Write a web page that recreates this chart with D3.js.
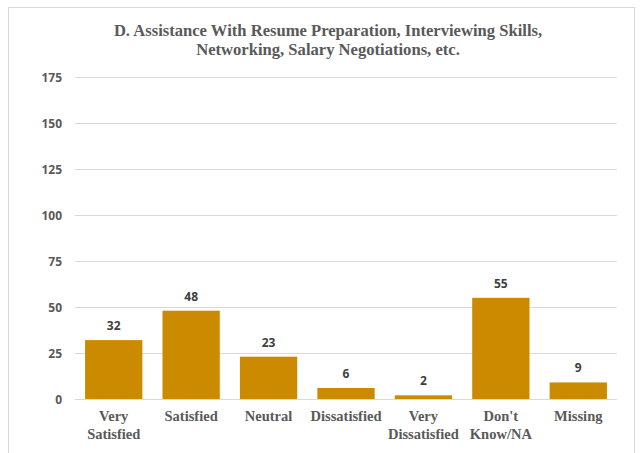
<!DOCTYPE html>
<html><head><meta charset="utf-8">
<script src="https://cdn.jsdelivr.net/npm/d3@7"></script>
<style>html,body{margin:0;padding:0;background:#fff;}svg{display:block;}</style>
</head><body>
<script>
const categories = [["Very","Satisfied"],["Satisfied"],["Neutral"],["Dissatisfied"],["Very","Dissatisfied"],["Don't","Know/NA"],["Missing"]];
const values = [32, 48, 23, 6, 2, 55, 9];
const yTicks = [0, 25, 50, 75, 100, 125, 150, 175];
const titleLines = ["D. Assistance With Resume Preparation, Interviewing Skills,", "Networking, Salary Negotiations, etc."];

const W = 643, H = 453;
const svg = d3.select("body").append("svg").attr("width", W).attr("height", H);
svg.append("rect").attr("x", 8.5).attr("y", 7.5).attr("width", 626).attr("height", 460)
  .attr("fill", "#fff").attr("stroke", "#d9d9d9");

const x = d3.scaleBand().domain(d3.range(categories.length)).range([75, 617]).paddingInner(0.26).paddingOuter(0.13);
const y = d3.scaleLinear().domain([0, 175]).range([399, 77]);

svg.append("g").selectAll("line").data(yTicks).join("line")
  .attr("x1", 75).attr("x2", 617).attr("y1", d => Math.round(y(d)) + 0.5).attr("y2", d => Math.round(y(d)) + 0.5)
  .attr("stroke", "#d9d9d9").attr("stroke-width", 1);

svg.append("g").selectAll("text").data(yTicks).join("text")
  .attr("x", 62).attr("y", d => y(d) + 4.5).attr("text-anchor", "end")
  .attr("font-family", "'Open Sans', 'Liberation Sans', sans-serif").attr("font-weight", "bold")
  .attr("font-size", 12).attr("fill", "#595959").text(d => d);

svg.append("g").selectAll("rect").data(values).join("rect")
  .attr("x", (d, i) => x(i)).attr("width", x.bandwidth())
  .attr("y", d => y(d)).attr("height", d => y(0) - y(d)).attr("fill", "#cc8a00");

svg.append("g").selectAll("text").data(values).join("text")
  .attr("x", (d, i) => x(i) + x.bandwidth() / 2).attr("y", d => y(d) - 10)
  .attr("text-anchor", "middle")
  .attr("font-family", "'Open Sans', 'Liberation Sans', sans-serif").attr("font-weight", "bold")
  .attr("font-size", 12).attr("fill", "#404040").text(d => d);

const cat = svg.append("g").selectAll("text").data(categories).join("text")
  .attr("x", (d, i) => x(i) + x.bandwidth() / 2).attr("y", 421)
  .attr("text-anchor", "middle")
  .attr("font-family", "'Liberation Serif', 'Times New Roman', serif").attr("font-weight", "bold")
  .attr("font-size", 14.5).attr("fill", "#595959");
cat.selectAll("tspan").data(d => d).join("tspan")
  .attr("x", function() { return this.parentNode.getAttribute("x"); })
  .attr("dy", (d, i) => i === 0 ? 0 : 18).text(d => d);

svg.append("g").selectAll("text").data(titleLines).join("text")
  .attr("x", 328).attr("y", (d, i) => 36 + i * 18.5).attr("text-anchor", "middle")
  .attr("font-family", "'Liberation Serif', 'Times New Roman', serif").attr("font-weight", "bold")
  .attr("font-size", 16.6).attr("fill", "#595959").text(d => d);
</script>
</body></html>
